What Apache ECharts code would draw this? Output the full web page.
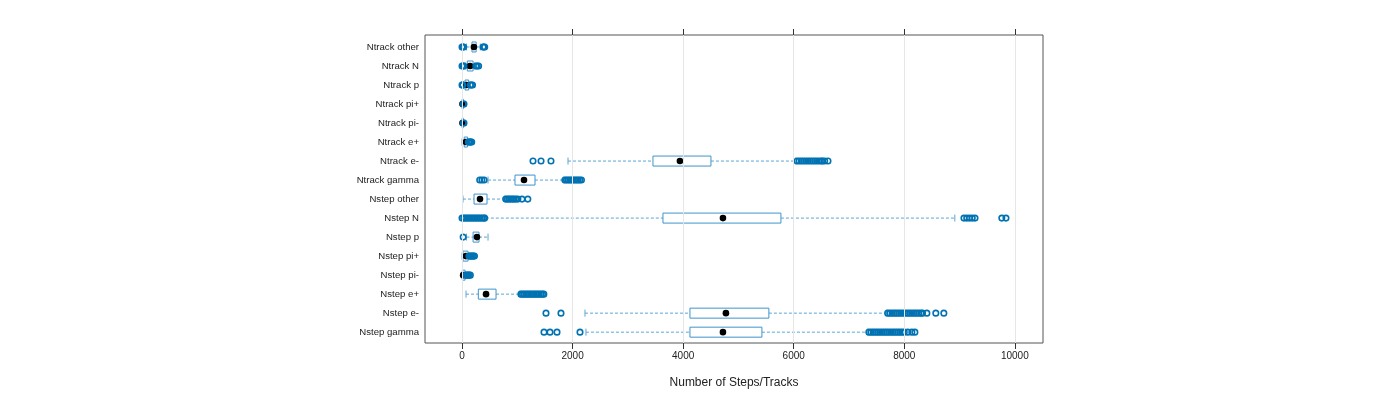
<!DOCTYPE html>
<html>
<head>
<meta charset="utf-8">
<script src="https://cdn.jsdelivr.net/npm/echarts@6/dist/echarts.min.js"></script>
<style>
html,body{margin:0;padding:0;background:#fff;}
#chart{width:1400px;height:400px;}
</style>
</head>
<body>
<div id="chart"></div>
<script>
// ---- data ----
const categories = ['Ntrack other','Ntrack N','Ntrack p','Ntrack pi+','Ntrack pi-','Ntrack e+','Ntrack e-','Ntrack gamma',
  'Nstep other','Nstep N','Nstep p','Nstep pi+','Nstep pi-','Nstep e+','Nstep e-','Nstep gamma'];
const whiskerLow  = [80, 60, 25, 0, 0, 0, 1917, 470, 18, 430, 80, 0, 0, 72, 2224, 2242];
const q1          = [180, 95, 55, 3, 3, 40, 3454, 958, 217, 3635, 200, 18, 5, 295, 4123, 4123];
const median      = [215, 145, 80, 8, 8, 70, 3942, 1121, 325, 4720, 270, 70, 20, 434, 4774, 4720];
const q3          = [255, 200, 120, 14, 14, 100, 4503, 1320, 452, 5769, 307, 108, 55, 615, 5551, 5425];
const whiskerHigh = [330, 230, 140, 22, 22, 105, 6040, 1845, 778, 8915, 470, 110, 60, 1049, 7685, 7342];
const outliers = [
  [0, 15, 30, 380, 395, 410],
  [0, 20, 35, 250, 275, 300],
  [0, 8, 15, 150, 170, 190],
  [28, 35],
  [28, 35],
  [115, 130, 145, 160, 175],
  [1284, 1429, 1609, 6060, 6100, 6140, 6180, 6220, 6260, 6300, 6340, 6380, 6420, 6460, 6500, 6520, 6560, 6620],
  [320, 360, 400, 1860, 1890, 1920, 1950, 1980, 2010, 2040, 2070, 2100, 2130, 2160],
  [790, 820, 850, 880, 910, 940, 970, 1010, 1085, 1190],
  [0, 30, 60, 90, 120, 150, 180, 210, 240, 270, 300, 330, 360, 390, 410, 9080, 9130, 9180, 9230, 9280, 9765, 9840],
  [20],
  [125, 145, 165, 185, 205, 225],
  [70, 90, 110, 130, 150],
  [1065, 1095, 1125, 1155, 1185, 1215, 1245, 1275, 1305, 1335, 1365, 1395, 1425, 1455, 1480],
  [1519, 1790, 7700, 7740, 7780, 7820, 7860, 7900, 7940, 7980, 8020, 8060, 8100, 8140, 8180, 8220, 8260, 8300, 8330, 8409, 8571, 8716],
  [1483, 1591, 1718, 2134, 7360, 7400, 7440, 7480, 7520, 7560, 7600, 7640, 7680, 7720, 7760, 7800, 7840, 7880, 7920, 7960, 8000, 8065, 8137, 8192]
];
const xTicks = [0, 2000, 4000, 6000, 8000, 10000];
const xTitle = 'Number of Steps/Tracks';

// ---- build ----
const rowIdx = categories.map((c, i) => i + 1);
const boxData = categories.map((c, i) => [i + 1, whiskerLow[i], q1[i], median[i], q3[i], whiskerHigh[i]]);
const outData = [];
outliers.forEach((arr, i) => arr.forEach(v => outData.push([v, i + 1])));

const BOXC = '#3f94cc';
const WHC = '#5aa6d6';
const PTC = '#0072b2';
const FONT = '"Liberation Sans", Arial, sans-serif';

function renderBox(params, api) {
  const y = api.value(0);
  const lo = api.coord([api.value(1), y]);
  const a = api.coord([api.value(2), y]);
  const m = api.coord([api.value(3), y]);
  const b = api.coord([api.value(4), y]);
  const hi = api.coord([api.value(5), y]);
  const cy = lo[1];
  const bh = 5, ch = 3.5;
  const dash = {stroke: WHC, lineWidth: 1, lineDash: [3, 2]};
  const solid = {stroke: WHC, lineWidth: 1};
  return {
    type: 'group',
    children: [
      {type: 'line', shape: {x1: lo[0], y1: cy, x2: a[0], y2: cy}, style: dash},
      {type: 'line', shape: {x1: b[0], y1: cy, x2: hi[0], y2: cy}, style: dash},
      {type: 'line', shape: {x1: lo[0], y1: cy - ch, x2: lo[0], y2: cy + ch}, style: solid},
      {type: 'line', shape: {x1: hi[0], y1: cy - ch, x2: hi[0], y2: cy + ch}, style: solid},
      {type: 'rect', shape: {x: a[0], y: cy - bh, width: Math.max(b[0] - a[0], 1), height: bh * 2},
        style: {fill: '#ffffff', stroke: BOXC, lineWidth: 1}},
      {type: 'circle', shape: {cx: m[0], cy: cy, r: 3.3}, style: {fill: '#000000'}, z2: 10}
    ]
  };
}

const chart = echarts.init(document.getElementById('chart'), null, {renderer: 'canvas'});
chart.setOption({
  animation: false,
  textStyle: {fontFamily: FONT},
  grid: {left: 425, right: 357, top: 35, bottom: 57, show: true, borderColor: '#555', borderWidth: 1, backgroundColor: 'transparent'},
  xAxis: [{
    type: 'value', min: -670, max: 10510, position: 'bottom',
    axisLine: {show: false},
    axisTick: {show: true, inside: false, length: 6, customValues: xTicks, lineStyle: {color: '#333'}},
    axisLabel: {customValues: xTicks, formatter: v => String(v), fontSize: 10, color: '#222', margin: 8, fontFamily: FONT},
    splitLine: {show: false},
    name: xTitle, nameLocation: 'middle', nameGap: 34,
    nameTextStyle: {fontSize: 12, color: '#222', fontFamily: FONT}
  }, {
    type: 'value', min: -670, max: 10510, position: 'top',
    axisLine: {show: false},
    axisTick: {show: true, inside: false, length: 6, customValues: xTicks, lineStyle: {color: '#333'}},
    axisLabel: {show: false},
    splitLine: {show: false}
  }],
  yAxis: {
    type: 'value', min: 0.37, max: 16.57, inverse: true,
    axisLine: {show: false},
    axisTick: {show: false},
    splitLine: {show: false},
    axisLabel: {customValues: rowIdx, formatter: v => categories[Math.round(v) - 1] || '', fontSize: 9.6, color: '#222', margin: 6, fontFamily: FONT}
  },
  series: [
    {
      type: 'scatter', data: [], silent: true,
      markLine: {
        silent: true, symbol: 'none', label: {show: false},
        lineStyle: {color: '#e6e6e6', width: 1, type: 'solid'},
        data: xTicks.map(v => ({xAxis: v}))
      },
      z: 1
    },
    {
      type: 'custom', renderItem: renderBox, data: boxData,
      encode: {x: [1, 2, 3, 4, 5], y: 0}, z: 3, silent: true
    },
    {
      type: 'scatter', data: outData, symbol: 'circle', symbolSize: 5.5, silent: true,
      itemStyle: {color: 'rgba(0,0,0,0)', borderColor: PTC, borderWidth: 1.6, opacity: 1},
      z: 4
    }
  ]
});
</script>
</body>
</html>
